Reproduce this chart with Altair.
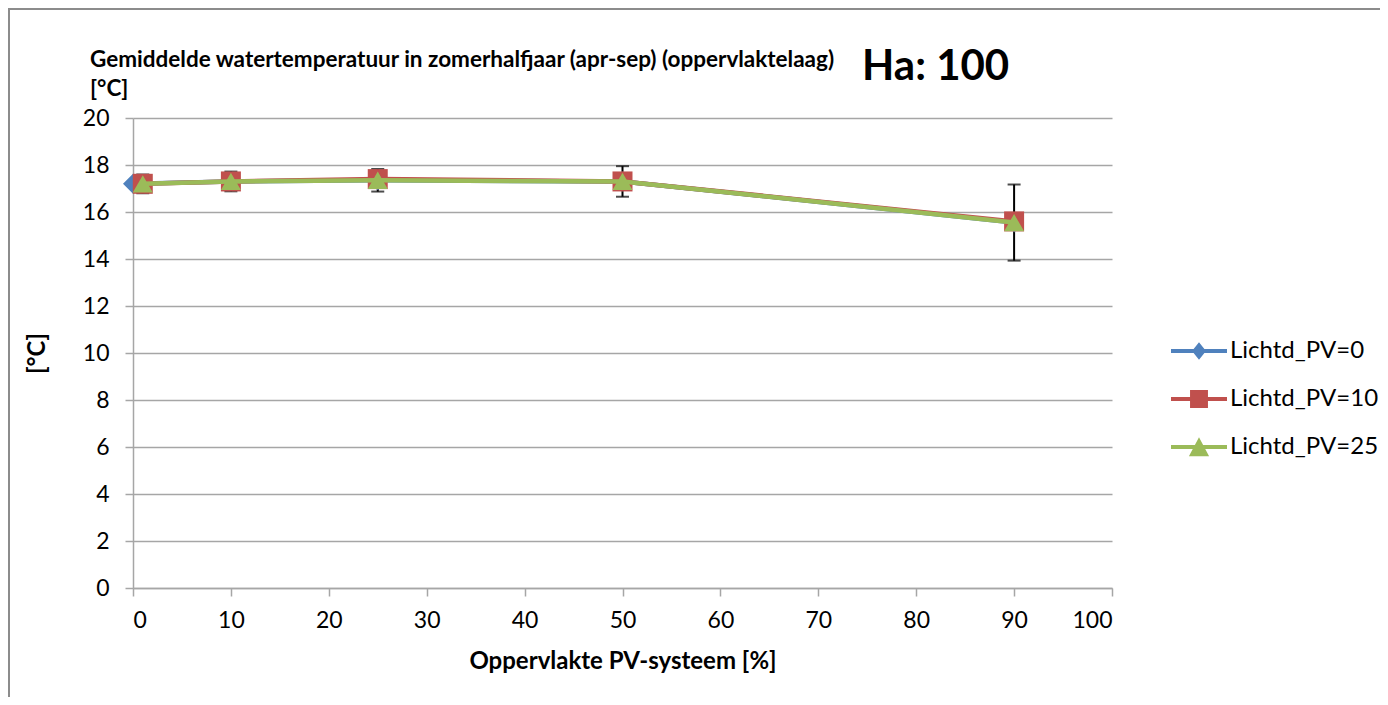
import altair as alt
import pandas as pd

# ---------------- data ----------------
series = ["Lichtd_PV=0", "Lichtd_PV=10", "Lichtd_PV=25"]
x_pv0 = [0, 10, 25, 50, 90]
y_pv0 = [17.2, 17.3, 17.35, 17.3, 15.55]
x_pv10 = [1, 10, 25, 50, 90]
y_pv10 = [17.2, 17.3, 17.4, 17.3, 15.6]
x_pv25 = [1, 10, 25, 50, 90]
y_pv25 = [17.2, 17.3, 17.35, 17.3, 15.55]
err_pv25 = [0.4, 0.42, 0.48, 0.65, 1.62]
x_ticks = list(range(0, 101, 10))
y_ticks = list(range(0, 21, 2))
title_lines = ["Gemiddelde watertemperatuur in zomerhalfjaar (apr-sep) (oppervlaktelaag)", "[°C]"]
badge = "Ha: 100"

colors = ["#4F81BD", "#C0504D", "#9BBB59"]
shapes = ["diamond", "square", "triangle-up"]
legend_paths = [
    "M-1,-0.15L3,-0.15L3,0.15L-1,0.15Z M1,-0.62L1.5,0L1,0.62L0.5,0Z",
    "M-1,-0.15L3,-0.15L3,0.15L-1,0.15Z M0.36,-0.64L1.64,-0.64L1.64,0.64L0.36,0.64Z",
    "M-1,-0.15L3,-0.15L3,0.15L-1,0.15Z M1,-0.7L1.72,0.66L0.28,0.66Z",
]

FONT = "Lato"
GRAY = "#a6a6a6"

rows = []
for name, xs, ys in zip(series, [x_pv0, x_pv10, x_pv25], [y_pv0, y_pv10, y_pv25]):
    for xv, yv in zip(xs, ys):
        rows.append({"series": name, "x": xv, "y": yv})
df = pd.DataFrame(rows)

err_df = pd.DataFrame({
    "x": x_pv25,
    "lo": [v - e for v, e in zip(y_pv25, err_pv25)],
    "hi": [v + e for v, e in zip(y_pv25, err_pv25)],
})

xscale = alt.Scale(domain=[0, 100], nice=False, zero=False)
yscale = alt.Scale(domain=[0, 20], nice=False)

xenc = alt.X("x:Q", scale=xscale, title="Oppervlakte PV-systeem [%]",
             axis=alt.Axis(values=x_ticks, grid=False, tickSize=8, labelPadding=13,
                           titlePadding=17, format="d"))
yenc = alt.Y("y:Q", scale=yscale, title="[°C]",
             axis=alt.Axis(values=y_ticks, grid=True, tickSize=8, labelPadding=16,
                           titlePadding=33, format="d"))

border = alt.Chart(pd.DataFrame({"a": [0]})).mark_rect(
    fill=None, stroke="#8c8c8c", strokeWidth=2
).encode(x=alt.value(-124), y=alt.value(-109), x2=alt.value(1400), y2=alt.value(800))

err_rule = alt.Chart(err_df).mark_rule(color="black", strokeWidth=2).encode(
    x=alt.X("x:Q", scale=xscale), y=alt.Y("lo:Q", scale=yscale), y2="hi:Q")
err_top = alt.Chart(err_df).mark_tick(color="black", thickness=2, size=13, orient="horizontal").encode(
    x=alt.X("x:Q", scale=xscale), y=alt.Y("hi:Q", scale=yscale))
err_bot = alt.Chart(err_df).mark_tick(color="black", thickness=2, size=13, orient="horizontal").encode(
    x=alt.X("x:Q", scale=xscale), y=alt.Y("lo:Q", scale=yscale))

layers = [border, err_rule, err_top, err_bot]
for name, col, shp in zip(series, colors, shapes):
    sub = df[df["series"] == name]
    base = alt.Chart(sub)
    layers.append(base.mark_line(color=col, strokeWidth=4.5).encode(x=xenc, y=yenc))
    layers.append(base.mark_point(filled=True, opacity=1, color=col, shape=shp, size=400,
                                  strokeWidth=0).encode(x=xenc, y=yenc))

leg = dict(title=None, orient="none", legendX=1038, legendY=219,
           symbolOpacity=1, symbolStrokeWidth=0, symbolSize=784,
           labelOffset=31, rowPadding=22, labelFontSize=24,
           labelFont=FONT, labelColor="black")
legend_layer = alt.Chart(df).mark_point(filled=True, opacity=0, size=784).encode(
    x=alt.X("x:Q", scale=xscale),
    y=alt.Y("y:Q", scale=yscale),
    color=alt.Color("series:N", scale=alt.Scale(domain=series, range=colors), legend=alt.Legend(**leg)),
    shape=alt.Shape("series:N", scale=alt.Scale(domain=series, range=legend_paths), legend=alt.Legend(**leg)),
)
layers.append(legend_layer)

ha_text = alt.Chart(pd.DataFrame({"t": [badge]})).mark_text(
    align="left", baseline="alphabetic", font=FONT, fontSize=42, fontWeight="bold", color="black"
).encode(text="t:N", x=alt.value(729), y=alt.value(-38))
layers.append(ha_text)

title_text = alt.Chart(pd.DataFrame({"t": ["\n".join(title_lines)]})).mark_text(
    align="left", baseline="alphabetic", font=FONT, fontSize=22.5, fontWeight="bold",
    color="black", lineBreak="\n", lineHeight=29
).encode(text="t:N", x=alt.value(-43), y=alt.value(-51))
layers.append(title_text)

chart = alt.layer(*layers).properties(
    width=979, height=470,
    autosize="none",
    padding={"left": 125, "top": 110, "right": 268, "bottom": 109},
).configure_view(strokeWidth=0).configure_axis(
    labelFont=FONT, labelFontSize=23, labelColor="black",
    titleFont=FONT, titleFontSize=24, titleFontWeight="bold", titleColor="black",
    domainColor=GRAY, tickColor=GRAY, gridColor=GRAY, gridWidth=1.5, domainWidth=1.5, tickWidth=1.5,
)

chart.save("out.html", embed_options={"renderer": "svg", "actions": False})
